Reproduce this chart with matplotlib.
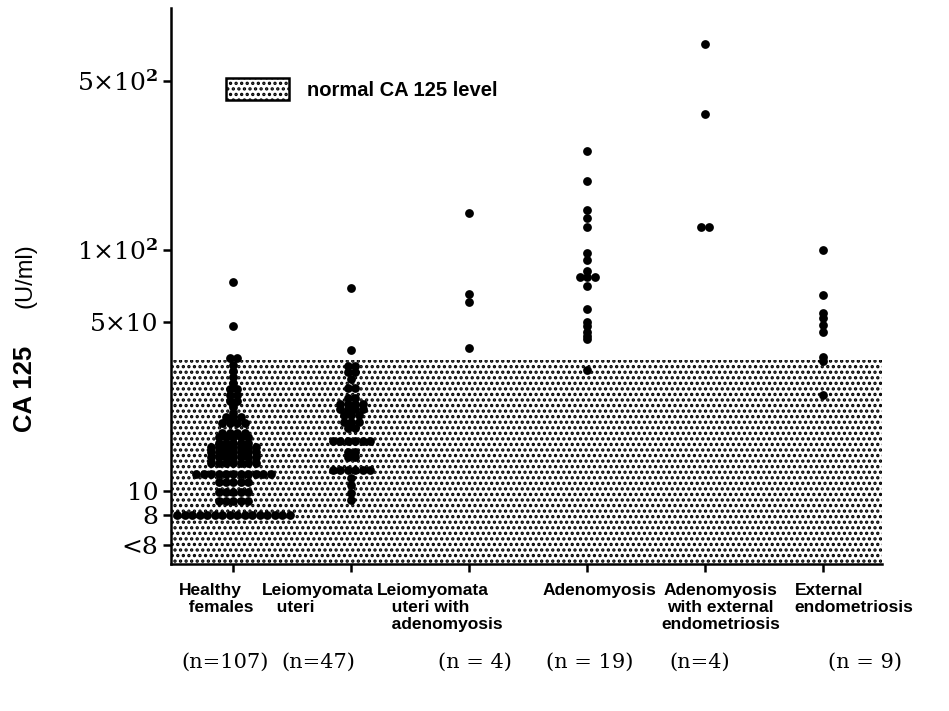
import numpy as np
import matplotlib
matplotlib.use("Agg")
import matplotlib.pyplot as plt
from matplotlib.patches import Patch
from matplotlib.transforms import blended_transform_factory

# ---------------- data ----------------
categories = ["Healthy\n  females", "Leiomyomata\n   uteri",
              "Leiomyomata\n   uteri with\n   adenomyosis", "Adenomyosis",
              "Adenomyosis\nwith external\nendometriosis", "External\nendometriosis"]
n_labels = ["(n=107)", "(n=47)", "(n = 4)", "(n = 19)", "(n=4)", "(n = 9)"]

healthy_levels = [73.7, 48.5, 35.6, 33.4, 31.6, 29.8, 28.1, 26.6, 25.1, 23.7, 22.4,
                  21.1, 20.2, 19.2, 17.5, 16.7, 15.9, 15.2, 14.5, 13.8, 13.1, 11.8,
                  10.9, 9.9, 9.1, 8.0]
healthy_counts = [1, 1, 2, 1, 1, 1, 1, 2, 2, 2, 1, 1, 3, 4, 4, 5, 5, 7, 7, 7, 7, 11,
                  5, 5, 5, 16]
leio_levels = [69.3, 38.3, 33.1, 31.2, 29.2, 26.8, 24.4, 23.0, 21.8, 20.6, 19.4, 18.3,
               16.2, 14.6, 13.8, 12.3, 11.4, 10.6, 9.8, 9.2]
leio_counts = [1, 1, 2, 2, 1, 2, 2, 4, 4, 3, 3, 2, 6, 2, 2, 6, 1, 1, 1, 1]
leio_adeno = [141.6, 65.6, 61.0, 39.2]
adeno = [257, 193, 146, 135, 124, 96.7, 90.2, 81.2, 76.9, 76.9, 76.9, 70.4, 56.9,
         50.4, 48.1, 45.8, 44.0, 42.7, 31.8]
adeno_ext = [707, 365, 124.6, 124.6]
external = [99.8, 64.9, 54.9, 52.1, 48.9, 45.6, 36.0, 34.5, 25.1]

normal_limit = 35
ytick_values = [500, 100, 50, 10, 8, 6]
ytick_labels = [r"5×10$^{\mathbf{2}}$", r"1×10$^{\mathbf{2}}$", "5×10", "10", "8", "<8"]

groups = [np.repeat(healthy_levels, healthy_counts),
          np.repeat(leio_levels, leio_counts),
          np.array(leio_adeno), np.array(adeno), np.array(adeno_ext), np.array(external)]

# ---------------- figure ----------------
plt.rcParams["mathtext.fontset"] = "dejavuserif"
plt.rcParams["hatch.linewidth"] = 1.6
fig = plt.figure(figsize=(9.49, 7.11), dpi=100)
ax = fig.add_axes([171 / 949, 1 - 564 / 711, (882 - 171) / 949, (564 - 8) / 711])
ax.set_yscale("log")
ax.set_ylim(5.0, 1000)
ax.set_xlim(-0.53, 5.5)

ax.axhspan(5.0, normal_limit, facecolor="white", edgecolor="black", hatch="...",
           linewidth=0, zorder=1)

spacing = 7.5 / 118.0
for i, vals in enumerate(groups):
    xs, ys = [], []
    uniq, counts = np.unique(vals, return_counts=True)
    for u, c in zip(uniq, counts):
        offs = (np.arange(c) - (c - 1) / 2.0) * spacing
        xs.extend(i + offs)
        ys.extend([u] * c)
    ax.scatter(xs, ys, s=40, color="black", linewidths=0, zorder=3, clip_on=False)

# axes styling
for side in ["top", "right"]:
    ax.spines[side].set_visible(False)
for side in ["left", "bottom"]:
    ax.spines[side].set_linewidth(1.8)

ax.set_yticks(ytick_values)
ax.set_yticklabels(ytick_labels, family="DejaVu Serif", fontsize=18)
ax.yaxis.set_minor_locator(plt.NullLocator())
ax.tick_params(axis="y", which="major", direction="out", length=6, width=1.8, pad=3)
ax.set_xticks(range(len(categories)))
ax.set_xticklabels([])
ax.tick_params(axis="x", direction="out", length=6, width=1.8)

# y-axis title: bold marker name + regular unit
ax.text(-0.205, 0.315, "CA 125", transform=ax.transAxes, rotation=90, ha="center",
        va="center", family="Liberation Sans", fontweight="bold", fontsize=18.5)
ax.text(-0.205, 0.518, "(U/ml)", transform=ax.transAxes, rotation=90, ha="center",
        va="center", family="Liberation Sans", fontsize=17)

# category labels
trans = blended_transform_factory(ax.transData, ax.transAxes)
label_x = [-0.46, 0.24, 1.22, 3.1, 4.13, 4.76]
label_ha = ["left", "left", "left", "center", "center", "left"]
for x, lab, ha in zip(label_x, categories, label_ha):
    ax.text(x, -0.035, lab, transform=trans, ha=ha, va="top", multialignment=ha,
            family="Liberation Sans", fontweight="bold", fontsize=12.5,
            linespacing=1.15)

n_x = [-0.07, 0.72, 2.05, 3.02, 3.95, 5.36]
for x, lab in zip(n_x, n_labels):
    ax.text(x, -0.176, lab, transform=trans, ha="center", va="center",
            family="DejaVu Serif", fontsize=15)

legend_handle = Patch(facecolor="white", edgecolor="black", hatch="...", linewidth=1.8)
ax.legend([legend_handle], ["normal CA 125 level"], loc="upper left",
          bbox_to_anchor=(0.078, 0.874), frameon=False, borderpad=0, borderaxespad=0,
          handlelength=3.1, handleheight=1.3, handletextpad=0.9,
          prop={"family": "Liberation Sans", "weight": "bold", "size": 14.5})

fig.savefig("out.png", dpi=100)
